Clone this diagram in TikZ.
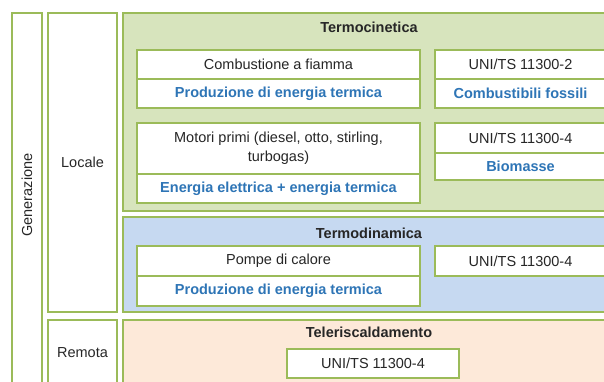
\documentclass[tikz,border=0pt]{standalone}
\usepackage{fontspec}
\setmainfont{Liberation Sans}
\usepackage{tikz}
\usetikzlibrary{positioning}
\definecolor{boxgreen}{RGB}{155,187,89}
\definecolor{fillgreen}{RGB}{215,228,189}
\definecolor{fillblue}{RGB}{198,217,241}
\definecolor{fillpeach}{RGB}{253,233,217}
\definecolor{textblue}{RGB}{46,117,182}
\definecolor{textdark}{RGB}{38,38,38}

\tikzset{
  panel/.style={draw=boxgreen, line width=2pt, anchor=north west, inner sep=0pt, outer sep=0pt},
  cell/.style={draw=boxgreen, line width=1.6pt, fill=white, anchor=north west, inner sep=2pt,
    outer sep=0pt, align=center, text=textdark, font=\fontsize{14.5}{19}\selectfont},
  keyline/.style={cell, text=textblue, font=\fontsize{14.5}{19}\selectfont\bfseries},
  paneltitle/.style={text=textdark, font=\fontsize{14.5}{17}\selectfont\bfseries},
  sidelabel/.style={text=textdark, font=\fontsize{14.5}{17}\selectfont},
}

\begin{document}
\begin{tikzpicture}[x=1pt,y=-1pt]
\useasboundingbox (0,0) rectangle (604,381);
\clip (0,0) rectangle (604,381);

% colonne a sinistra
\node[panel, minimum width=30pt, minimum height=390pt] (gen) at (12,13) {};
\node[sidelabel, rotate=90] (genlabel) at (27,195) {Generazione};
\node[panel, minimum width=69pt, minimum height=299pt] (locale) at (48,13) {};
\node[sidelabel] (localelabel) at (locale.center) {Locale};
\node[panel, minimum width=69pt, minimum height=80pt] (remota) at (48,320) {};
\node[sidelabel] (remotalabel) at (82.5,353) {Remota};

% pannelli colorati
\node[panel, fill=fillgreen, minimum width=492pt, minimum height=198pt] (cinetica) at (123,13) {};
\node[paneltitle] (cineticatitle) at (369,27) {Termocinetica};
\node[panel, fill=fillblue, minimum width=492pt, minimum height=95pt] (dinamica) at (123,217) {};
\node[paneltitle] (dinamicatitle) at (369,233) {Termodinamica};
\node[panel, fill=fillpeach, minimum width=492pt, minimum height=80pt] (teler) at (123,320) {};
\node[paneltitle] (telertitle) at (369,332) {Teleriscaldamento};

% Termocinetica
\node[cell, minimum width=283pt, minimum height=29pt] (comb) at (137,50) {Combustione a fiamma};
\node[keyline, minimum width=283pt, minimum height=29pt] (combprod) at (comb.south west) {Produzione di energia termica};
\node[cell, minimum width=171pt, minimum height=29pt] (uni2) at (435,50) {UNI/TS 11300-2};
\node[keyline, minimum width=171pt, minimum height=29pt] (fossili) at (uni2.south west) {Combustibili fossili};

\node[cell, minimum width=283pt, minimum height=51pt] (motori) at (137,123) {Motori primi (diesel, otto, stirling,\\turbogas)};
\node[keyline, minimum width=283pt, minimum height=29pt] (motoriprod) at (motori.south west) {Energia elettrica + energia termica};
\node[cell, minimum width=171pt, minimum height=30pt] (uni4) at (435,123) {UNI/TS 11300-4};
\node[keyline, minimum width=171pt, minimum height=27pt] (biomasse) at (uni4.south west) {Biomasse};

% Termodinamica
\node[cell, minimum width=283pt, minimum height=30pt] (pompe) at (137,246) {Pompe di calore};
\node[keyline, minimum width=283pt, minimum height=30pt] (pompeprod) at (pompe.south west) {Produzione di energia termica};
\node[cell, minimum width=171pt, minimum height=30pt] (uni4b) at (435,246) {UNI/TS 11300-4};

% Teleriscaldamento
\node[cell, minimum width=172pt, minimum height=29pt] (uni4c) at (287,349) {UNI/TS 11300-4};
\end{tikzpicture}
\end{document}
